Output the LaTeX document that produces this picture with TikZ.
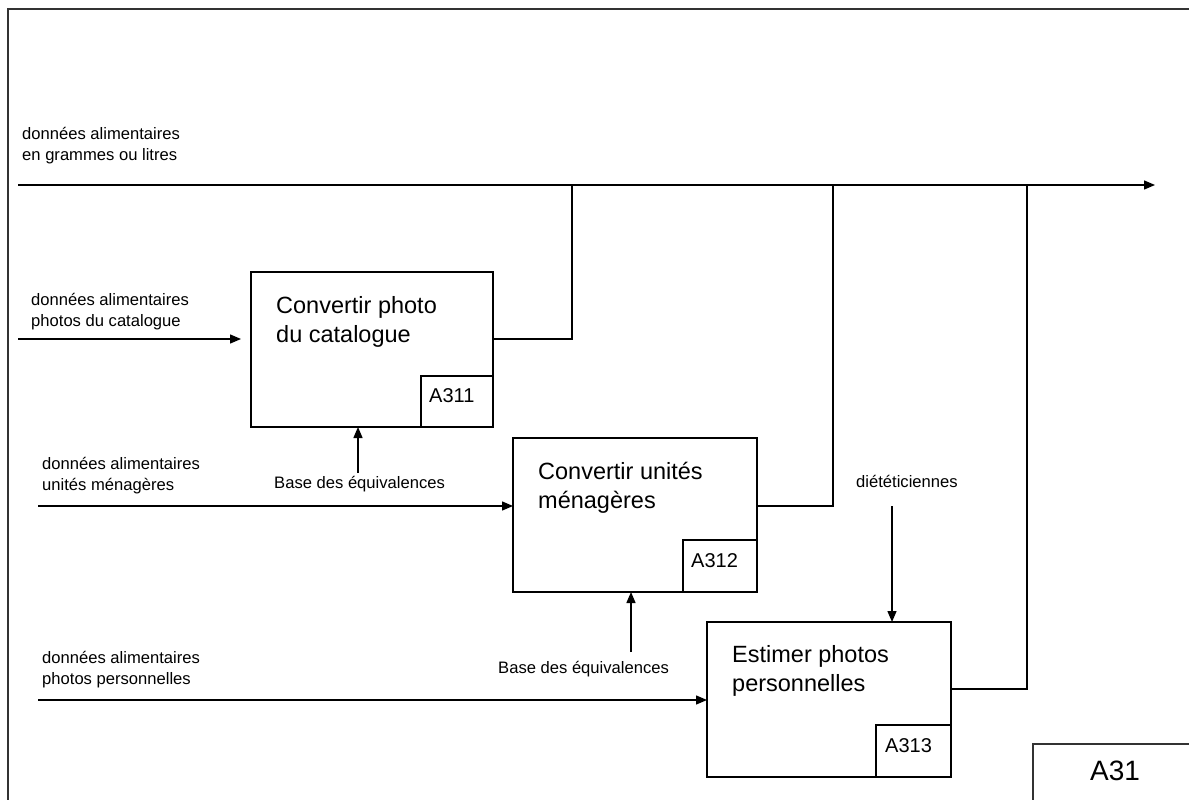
\documentclass[tikz,border=0pt]{standalone}
\usepackage{fontspec}
\setmainfont{Liberation Sans}
\usetikzlibrary{arrows.meta}
\begin{document}
\begin{tikzpicture}[x=1pt,y=-1pt,
  line/.style={line width=1.4pt,black},
  flow/.style={line,-{Triangle[length=11pt,width=9pt]}},
  act/.style={draw,line width=1.4pt,inner sep=0pt,outer sep=0pt,anchor=north west},
  codebox/.style={draw,line width=1.4pt,inner sep=0pt,outer sep=0pt,anchor=south east},
  lbl/.style={anchor=base west,inner sep=0pt,align=left,font=\fontsize{16.6}{21}\selectfont},
  title/.style={anchor=base west,inner sep=0pt,align=left,font=\fontsize{23.5}{28.5}\selectfont},
  code/.style={anchor=base west,inner sep=0pt,font=\fontsize{20}{24}\selectfont}]

\useasboundingbox (0,0) rectangle (1189,800);
\clip (0,0) rectangle (1189,800);

% sheet frame
\draw[line width=2pt,black!80] (8,820) |- (1210,9);

% activity boxes
\node[act,minimum width=242pt,minimum height=155pt] (b1) at (251,272) {};
\node[codebox,minimum width=72pt,minimum height=51pt] (b1c) at (b1.south east) {};
\node[act,minimum width=244pt,minimum height=154pt] (b2) at (513,438) {};
\node[codebox,minimum width=74pt,minimum height=52pt] (b2c) at (b2.south east) {};
\node[act,minimum width=244pt,minimum height=155pt] (b3) at (707,622) {};
\node[codebox,minimum width=75pt,minimum height=52pt] (b3c) at (b3.south east) {};

% activity names (anchored on the baseline of their last line)
\node[title] (t1) at (276,342) {Convertir photo\\du catalogue};
\node[code] (k1) at (429,402) {A311};
\node[title] (t2) at (538,508) {Convertir unités\\ménagères};
\node[code] (k2) at (691,567) {A312};
\node[title] (t3) at (732,691) {Estimer photos\\personnelles};
\node[code] (k3) at (885,752) {A313};

% labels
\node[lbl] (l0) at (22,160) {données alimentaires\\en grammes ou litres};
\node[lbl] (l1) at (31,326) {données alimentaires\\photos du catalogue};
\node[lbl] (l2) at (42,490) {données alimentaires\\unités ménagères};
\node[lbl] (l3) at (42,684) {données alimentaires\\photos personnelles};
\node[lbl] (lc1) at (274,488) {Base des équivalences};
\node[lbl] (lc2) at (498,673) {Base des équivalences};
\node[lbl] (lm3) at (856,487) {diététiciennes};

% free ends and junctions
\coordinate (i0) at (18,185);
\coordinate (o0) at (1155,185);
\coordinate (i1) at (18,339);
\coordinate (i2) at (38,506);
\coordinate (i3) at (38,700);
\coordinate (c1) at (358,473);
\coordinate (c2) at (631,652);
\coordinate (m3) at (892,506);
\coordinate (j1) at (572,185);
\coordinate (j2) at (833,185);
\coordinate (j3) at (1027,185);

% main output line
\draw[flow] (i0) -- (o0);

% inputs
\draw[flow,shorten >=10pt] (i1) -- (i1 -| b1.west);
\draw[flow] (i2) -- (i2 -| b2.west);
\draw[flow] (i3) -- (i3 -| b3.west);

% controls and mechanism
\draw[flow] (c1) -- (c1 |- b1.south);
\draw[flow] (c2) -- (c2 |- b2.south);
\draw[flow] (m3) -- (m3 |- b3.north);

% outputs joining the main line
\draw[line] ([yshift=10.5pt]b1.east) -| (j1);
\draw[line] ([yshift=9pt]b2.east) -| (j2);
\draw[line] ([yshift=10.5pt]b3.east) -| (j3);

% node reference box
\draw[line width=1.6pt,black!80] (1033,820) |- (1210,744);
\node[anchor=base west,inner sep=0pt,font=\fontsize{28}{32}\selectfont] (a31) at (1090,780) {A31};
\end{tikzpicture}
\end{document}
